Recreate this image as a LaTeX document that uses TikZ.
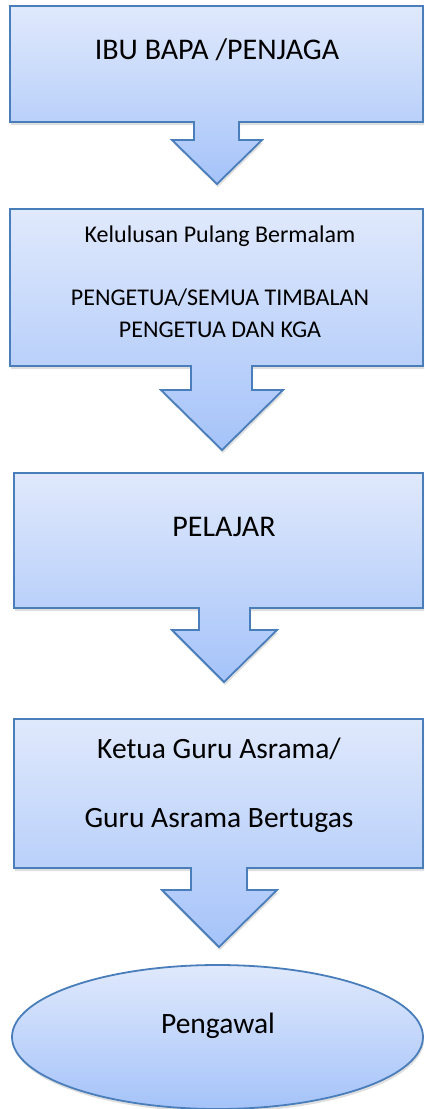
\documentclass[tikz,border=0pt]{standalone}
\usepackage{fontspec}
\setmainfont{Carlito}
\usetikzlibrary{shadows}

\definecolor{calloutline}{HTML}{4A7EBB}
\definecolor{callouttop}{HTML}{E0E9FC}
\definecolor{calloutbottom}{HTML}{A5C3F9}

\tikzset{
  callout/.style={draw=calloutline, line width=1.8pt, line join=miter,
    top color=callouttop, bottom color=calloutbottom,
    drop shadow={opacity=0.25, shadow xshift=1pt, shadow yshift=-3pt}},
  caption/.style={anchor=base, inner sep=0pt, text=black},
  big/.style={font=\fontsize{30}{36}\selectfont},
  mid/.style={font=\fontsize{29.5}{35}\selectfont},
  small/.style={font=\fontsize{24}{29}\selectfont}
}

\begin{document}
\begin{tikzpicture}[x=1pt, y=-1pt]
    \useasboundingbox (0,0) rectangle (424,1109);
    % callouts, box with arrow below
    \path[callout] (10,6)--(423,6)--(423,122)--(239,122)--(239,140)--(262,140)--(217,184)
        --(172,140)--(194,140)--(194,122)--(10,122)--cycle;
    \path[callout] (10,209)--(423,209)--(423,366)--(252,366)--(252,390)--(283,390)--(222,450)
        --(161,390)--(191,390)--(191,366)--(10,366)--cycle;
    \path[callout] (14,473)--(423,473)--(423,608)--(250,608)--(250,630)--(277,630)--(224,682)
        --(172,630)--(199,630)--(199,608)--(14,608)--cycle;
    \path[callout] (14,719)--(423,719)--(423,868)--(247,868)--(247,890)--(277,890)--(219,947)
        --(162,890)--(191,890)--(191,868)--(14,868)--cycle;
    \path[callout] (217.5,1037) ellipse [x radius=205.5, y radius=72];

    \node[caption, big] (ibu) at (217,59) {IBU BAPA /PENJAGA};
    \node[caption, small] (lulus) at (220,242) {Kelulusan Pulang Bermalam};
    \node[caption, small] (pengetua) at (220,305) {PENGETUA/SEMUA TIMBALAN};
    \node[caption, small] (kga) at (220,337) {PENGETUA DAN KGA};
    \node[caption, big] (pelajar) at (224,536) {PELAJAR};
    \node[caption, mid] (ketua) at (219,758) {Ketua Guru Asrama/};
    \node[caption, mid] (bertugas) at (219,827) {Guru Asrama Bertugas};
    \node[caption, mid] (pengawal) at (218,1033) {Pengawal};
\end{tikzpicture}
\end{document}
